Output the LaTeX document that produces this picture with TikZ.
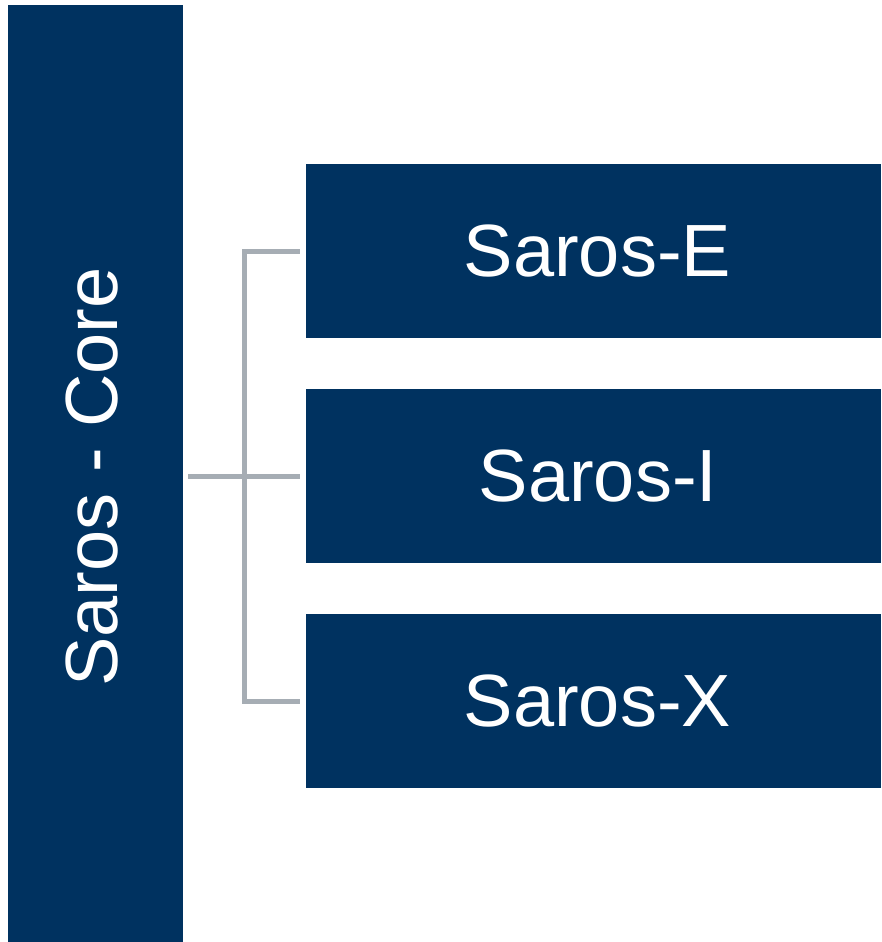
\documentclass[tikz,border=0pt]{standalone}
\usepackage{fontspec}
\setmainfont{Liberation Sans}
\definecolor{navy}{RGB}{0,50,96}
\definecolor{conngray}{RGB}{166,173,180}
\begin{document}
\begin{tikzpicture}[x=1pt,y=-1pt,
  darkbox/.style={fill=navy,draw=none,inner sep=0pt},
  lbl/.style={text=white,inner sep=0pt,font=\fontsize{74}{80}\selectfont},
  conn/.style={draw=conngray,line width=5pt}]
\useasboundingbox (0,0) rectangle (881,942);
\node[darkbox,minimum width=175pt,minimum height=937pt] (core) at (95.5,473.5) {};
\node[lbl,rotate=90] (coretext) at (92.5,477) {Saros - Core};
\node[darkbox,minimum width=575pt,minimum height=174pt] (b1) at (593.5,251) {};
\node[darkbox,minimum width=575pt,minimum height=174pt] (b2) at (593.5,476) {};
\node[darkbox,minimum width=575pt,minimum height=174pt] (b3) at (593.5,701) {};
\node[lbl] (t1) at ([xshift=4pt]b1.center) {Saros-E};
\node[lbl] (t2) at ([xshift=4.5pt]b2.center) {Saros-I};
\node[lbl] (t3) at ([xshift=4pt]b3.center) {Saros-X};
\coordinate (spine) at (244,476);
\draw[conn] ([xshift=-6pt]b1.west) -| (spine |- b3.west) -- ([xshift=-6pt]b3.west);
\draw[conn] ([xshift=5pt]core.east |- b2.west) -- ([xshift=-6pt]b2.west);
\end{tikzpicture}
\end{document}
